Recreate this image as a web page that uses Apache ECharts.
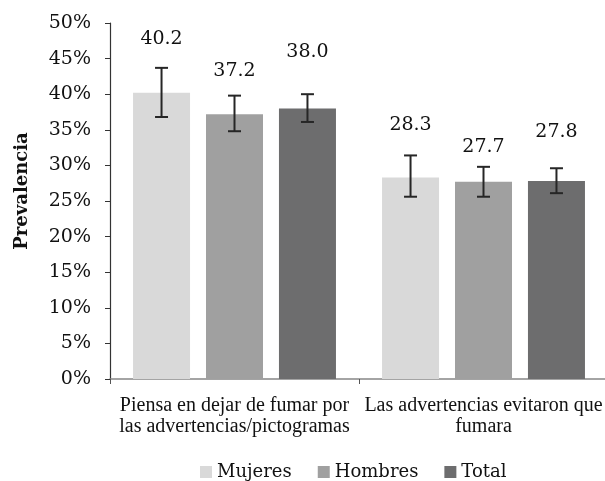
<!DOCTYPE html>
<html>
<head>
<meta charset="utf-8">
<script src="https://cdn.jsdelivr.net/npm/echarts@6/dist/echarts.min.js"></script>
<style>
  html, body { margin: 0; padding: 0; background: #fff; }
  #chart { width: 605px; height: 481px; }
</style>
</head>
<body>
<div id="chart"></div>
<script>
const categories = ['Piensa en dejar de fumar por\nlas advertencias/pictogramas', 'Las advertencias evitaron que\nfumara']
const seriesNames = ['Mujeres', 'Hombres', 'Total']
const mujeres = [40.2, 28.3]
const hombres = [37.2, 27.7]
const total = [38.0, 27.8]
const mujeresLow = [36.8, 25.6]
const mujeresHigh = [43.7, 31.4]
const hombresLow = [34.8, 25.6]
const hombresHigh = [39.8, 29.8]
const totalLow = [36.1, 26.1]
const totalHigh = [40.0, 29.6]
const yTicks = [0, 5, 10, 15, 20, 25, 30, 35, 40, 45, 50]

const values = [mujeres, hombres, total]
const lows = [mujeresLow, hombresLow, totalLow]
const highs = [mujeresHigh, hombresHigh, totalHigh]

// styling
const colors = ['#d9d9d9', '#a0a0a0', '#6d6d6e']
const labelLift = [[29, 30], [25, 20], [42, 36]]
const catGap = 0.185
const barGapRatio = 0.28
const font = 'DejaVu Serif'
const textFont = 'Liberation Serif'

const chart = echarts.init(document.getElementById('chart'))

const errData = []
values.forEach((vals, s) => {
  vals.forEach((v, c) => {
    errData.push([c, lows[s][c], highs[s][c], v, s])
  })
})

const renderErr = (params, api) => {
  const c = api.value(0)
  const s = api.value(4)
  const band = api.size([1, 0])[0]
  const usable = band * (1 - catGap)
  const bw = usable / (3 + 2 * barGapRatio)
  const lowPt = api.coord([c, api.value(1)])
  const highPt = api.coord([c, api.value(2)])
  const x = lowPt[0] - usable / 2 + bw / 2 + s * bw * (1 + barGapRatio)
  const cap = 6.5
  const st = { stroke: '#262626', lineWidth: 2 }
  return {
    type: 'group',
    children: [
      { type: 'line', shape: { x1: x, y1: lowPt[1], x2: x, y2: highPt[1] }, style: st },
      { type: 'line', shape: { x1: x - cap, y1: lowPt[1], x2: x + cap, y2: lowPt[1] }, style: st },
      { type: 'line', shape: { x1: x - cap, y1: highPt[1], x2: x + cap, y2: highPt[1] }, style: st },
      {
        type: 'text',
        style: {
          x: x,
          y: highPt[1] - labelLift[s][c],
          text: api.value(3).toFixed(1),
          fontFamily: font,
          fontSize: 19,
          fill: '#111',
          align: 'center',
          verticalAlign: 'middle'
        }
      }
    ]
  }
}

const option = {
  animation: false,
  textStyle: { fontFamily: font },
  grid: {
    left: 110,
    top: 23,
    width: 498,
    height: 356,
    outerBoundsMode: 'none'
  },
  legend: {
    data: seriesNames,
    left: 195,
    top: 458,
    icon: 'rect',
    itemWidth: 12,
    itemHeight: 12,
    itemGap: 26,
    textStyle: { fontFamily: font, fontSize: 18, color: '#111' }
  },
  xAxis: {
    type: 'category',
    data: categories,
    axisLine: { lineStyle: { color: '#868686', width: 1.5 } },
    axisTick: { show: true, length: 5, lineStyle: { color: '#555' } },
    axisLabel: {
      fontFamily: textFont,
      fontSize: 20,
      color: '#111',
      margin: 16,
      lineHeight: 21,
      interval: 0
    }
  },
  yAxis: {
    type: 'value',
    min: 0,
    max: 50,
    interval: 5,
    name: 'Prevalencia',
    nameLocation: 'middle',
    nameGap: 79,
    nameTextStyle: {
      fontFamily: font,
      fontSize: 18,
      fontWeight: 'bold',
      color: '#111',
      padding: [0, 0, 0, 20]
    },
    splitLine: { show: false },
    axisLine: { show: true, lineStyle: { color: '#333', width: 1.2 } },
    axisTick: { show: true, length: 5, lineStyle: { color: '#333' } },
    axisLabel: {
      fontFamily: font,
      fontSize: 19,
      color: '#111',
      margin: 19,
      formatter: v => (yTicks.includes(v) ? v + '%' : '')
    }
  },
  series: [
    ...seriesNames.map((name, i) => ({
      name: name,
      type: 'bar',
      data: values[i],
      barGap: (barGapRatio * 100) + '%',
      barCategoryGap: (catGap * 100) + '%',
      itemStyle: { color: colors[i] }
    })),
    {
      type: 'custom',
      renderItem: renderErr,
      data: errData,
      z: 10,
      encode: { x: 0, y: [1, 2] }
    }
  ]
}

chart.setOption(option)
</script>
</body>
</html>
